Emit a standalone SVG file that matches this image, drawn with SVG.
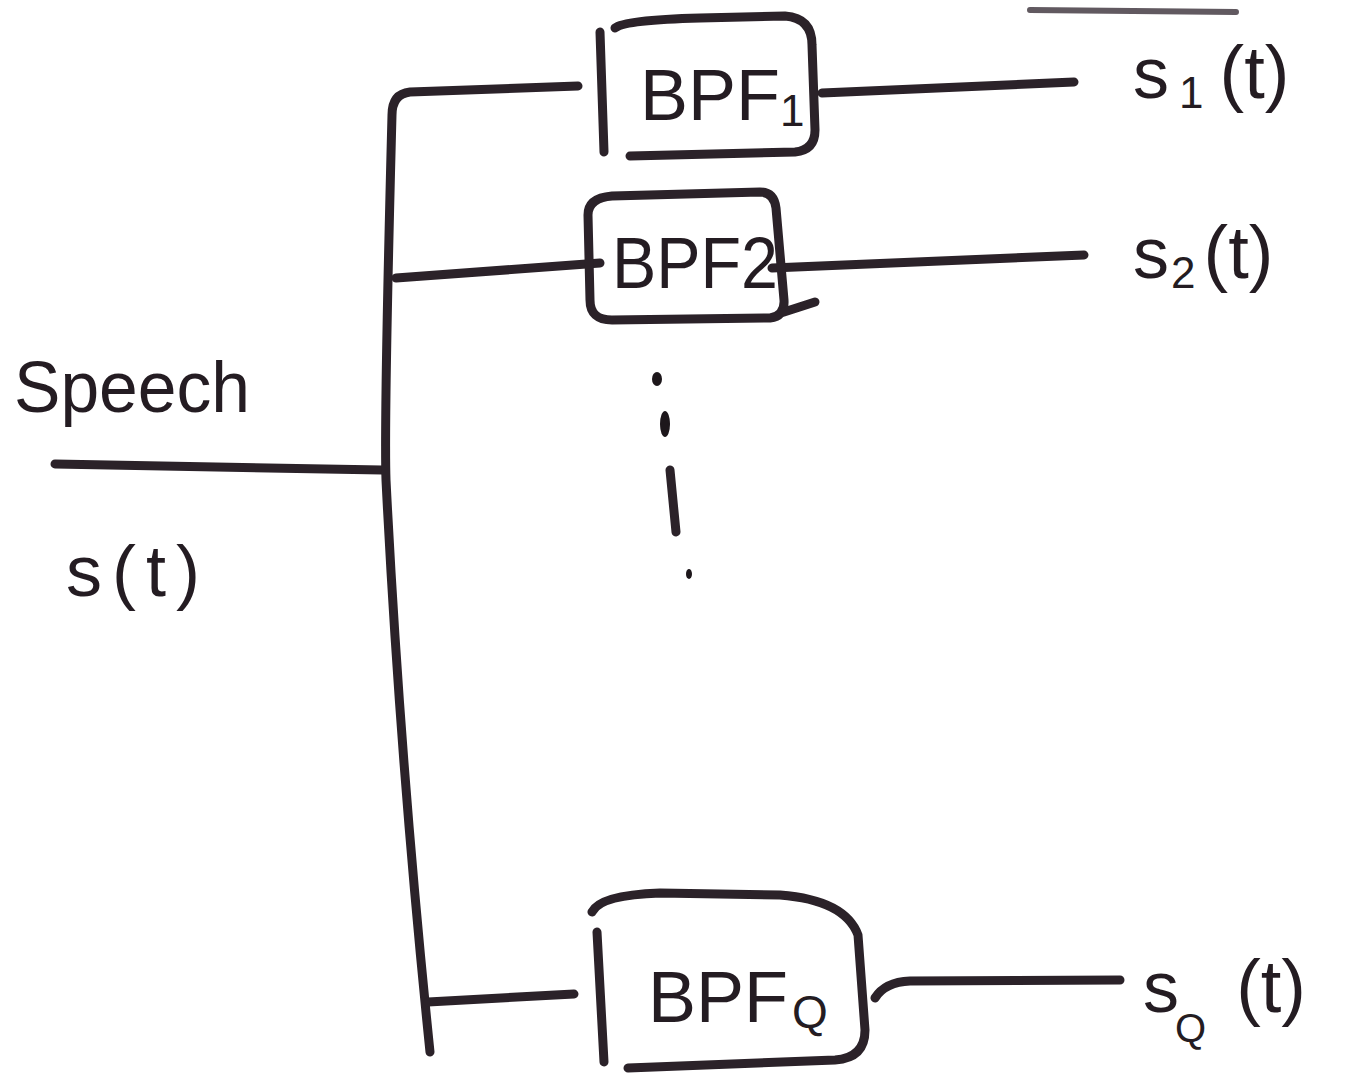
<svg xmlns="http://www.w3.org/2000/svg" width="1346" height="1075" viewBox="0 0 1346 1075">
<style>
.ink{fill:none;stroke:#2b2229;stroke-width:9;stroke-linecap:round;stroke-linejoin:round}
.lbl{font-family:"Liberation Sans",Arial,sans-serif;fill:#241c22;font-size:72px}
.dot{fill:#1d171b}
</style>
<rect width="1346" height="1075" fill="#ffffff"/>
<g id="connectors">
<path class="ink" d="M55,464 L382,470"/>
<path class="ink" d="M578,86 L410,92 Q392,94 392,115 Q384,420 386,480 Q400,760 430,1052"/>
<path class="ink" d="M396,278 L600,263"/>
<path class="ink" d="M428,1002 L574,994"/>
<path class="ink" d="M822,93 L1074,82"/>
<path class="ink" d="M772,268 L1084,255"/>
<path class="ink" d="M875,998 Q885,982 910,981 L1120,980"/>
<path d="M1030,10 L1236,12" stroke="#3a3038" stroke-width="6" stroke-linecap="round" fill="none" opacity="0.8"/>
</g>
<g id="input-label">
<text class="lbl" x="14" y="412" font-size="74" textLength="236" lengthAdjust="spacingAndGlyphs">Speech</text>
<text class="lbl" x="66" y="596" font-size="84" letter-spacing="10">s(t)</text>
</g>
<g id="bpf1">
<path class="ink" d="M600,32 L604,152"/>
<path class="ink" d="M615,28 Q625,20 700,18 L785,16 Q812,18 812,45 L815,130 Q815,150 795,152 L630,156"/>
<text class="lbl" x="640" y="120" font-size="64">BPF<tspan font-size="44" dy="6">1</tspan></text>
</g>
<g id="bpf2">
<path class="ink" d="M612,196 L760,192 Q774,192 776,208 L784,300 Q785,316 770,318 L612,320 Q590,320 590,300 L588,215 Q588,198 612,196 Z"/>
<path class="ink" d="M784,312 L815,302"/>
<text class="lbl" x="612" y="288" font-size="66" textLength="166" lengthAdjust="spacingAndGlyphs">BPF2</text>
</g>
<g id="dots">
<ellipse class="dot" cx="657" cy="379" rx="5" ry="7"/>
<ellipse class="dot" cx="665" cy="424" rx="5" ry="13"/>
<path class="ink" d="M670,470 L676,532" stroke-width="8"/>
<ellipse class="dot" cx="689" cy="574" rx="3" ry="5"/>
</g>
<g id="bpfq">
<path class="ink" d="M597,932 L604,1062"/>
<path class="ink" d="M592,912 Q600,895 660,893 L780,895 Q845,900 858,935 L865,1030 Q865,1058 835,1060 L628,1068"/>
<text class="lbl" x="648" y="1022" font-size="66">BPF<tspan font-size="46" dx="4" dy="6">Q</tspan></text>
</g>
<g id="out1">
<text class="lbl" x="1133" y="98" font-size="74">s<tspan font-size="44" dx="10" dy="10">1</tspan><tspan dx="16" dy="-10" font-size="74">(t)</tspan></text>
</g>
<g id="out2">
<text class="lbl" x="1133" y="278" font-size="74">s<tspan font-size="44" dx="2" dy="10">2</tspan><tspan dx="8" dy="-10" font-size="74">(t)</tspan></text>
</g>
<g id="outq">
<text class="lbl" x="1143" y="1012" font-size="74">s<tspan font-size="40" dx="-4" dy="30">Q</tspan><tspan dx="30" dy="-30" font-size="74">(t)</tspan></text>
</g>
</svg>
